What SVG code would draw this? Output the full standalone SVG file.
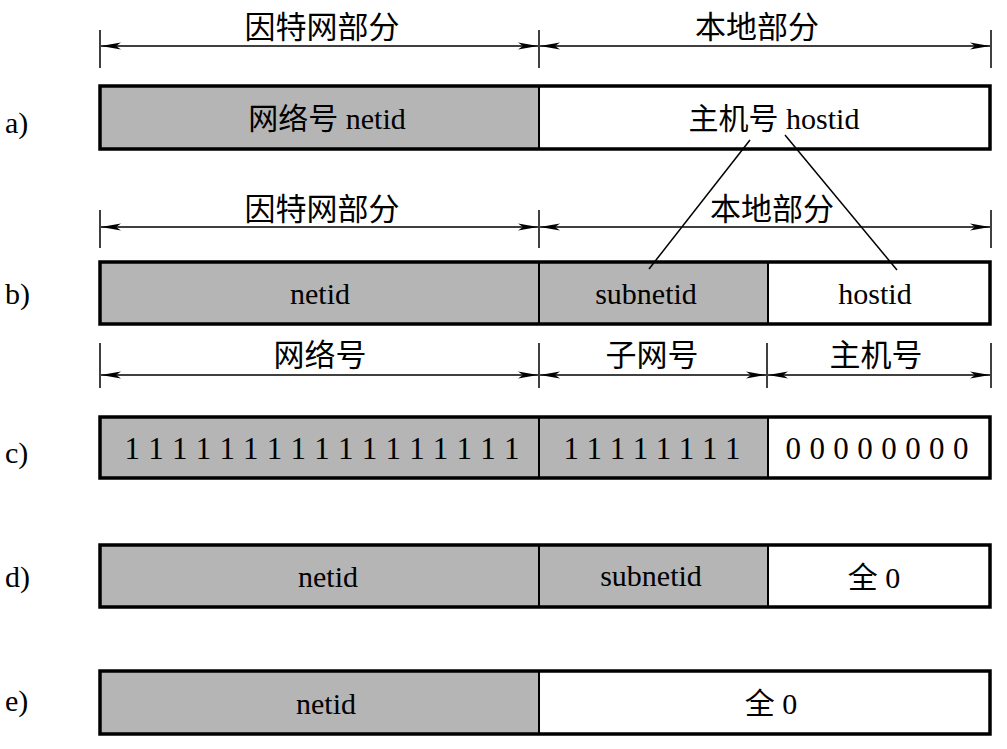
<svg xmlns="http://www.w3.org/2000/svg" width="1007" height="749" viewBox="0 0 1007 749">
<style>
text{font-family:"Liberation Serif","Noto Sans CJK SC",serif;fill:#000;}
.t{font-size:30px;text-anchor:middle;}
.d{font-size:31px;text-anchor:middle;}
.lab{font-size:30px;}
.g{fill:#b5b5b5;stroke:#000;stroke-width:2;}
.w{fill:#fff;stroke:#000;stroke-width:2;}
.frame{fill:none;stroke:#000;stroke-width:3.5;}
.tick{stroke:#000;stroke-width:1.5;}
.dim{stroke:#000;stroke-width:1.3;fill:none;marker-start:url(#ar);marker-end:url(#ar);}
.con{stroke:#000;stroke-width:1.5;fill:none;}
</style>
<defs>
<marker id="ar" markerUnits="userSpaceOnUse" markerWidth="24" markerHeight="10" viewBox="-22 -5 24 10" refX="0" refY="0" orient="auto-start-reverse">
<path d="M0,0 L-20,-3.5 L-15,0 L-20,3.5 Z" fill="#000"/>
</marker>
</defs>
<rect width="1007" height="749" fill="#fff"/>

<g id="labels">
<text class="lab" x="5" y="133">a)</text>
<text class="lab" x="5" y="304">b)</text>
<text class="lab" x="5" y="463">c)</text>
<text class="lab" x="5" y="587">d)</text>
<text class="lab" x="5" y="711">e)</text>
</g>

<g id="dimensions">
<line class="tick" x1="100" y1="30" x2="100" y2="68"/>
<line class="tick" x1="539" y1="30" x2="539" y2="68"/>
<line class="tick" x1="991" y1="30" x2="991" y2="68"/>
<line class="dim" x1="101" y1="46" x2="538" y2="46"/>
<line class="dim" x1="540" y1="46" x2="990" y2="46"/>
<text class="d" x="322" y="38">因特网部分</text>
<text class="d" x="757" y="38">本地部分</text>

<line class="tick" x1="100" y1="210" x2="100" y2="248"/>
<line class="tick" x1="539" y1="210" x2="539" y2="248"/>
<line class="tick" x1="991" y1="210" x2="991" y2="248"/>
<line class="dim" x1="101" y1="227" x2="538" y2="227"/>
<line class="dim" x1="540" y1="227" x2="990" y2="227"/>
<text class="d" x="322" y="220">因特网部分</text>
<text class="d" x="772" y="220">本地部分</text>

<line class="tick" x1="100" y1="343" x2="100" y2="388"/>
<line class="tick" x1="539" y1="343" x2="539" y2="388"/>
<line class="tick" x1="767" y1="343" x2="767" y2="388"/>
<line class="tick" x1="991" y1="343" x2="991" y2="388"/>
<line class="dim" x1="101" y1="375" x2="538" y2="375"/>
<line class="dim" x1="540" y1="375" x2="766" y2="375"/>
<line class="dim" x1="768" y1="375" x2="990" y2="375"/>
<text class="d" x="320" y="366">网络号</text>
<text class="d" x="652" y="366">子网号</text>
<text class="d" x="876" y="366">主机号</text>
</g>

<g id="row-a">
<g id="a-netid"><rect class="g" x="100" y="86" width="439" height="63"/><text class="t" x="327" y="129">网络号 netid</text></g>
<g id="a-hostid"><rect class="w" x="539" y="86" width="451" height="63"/><text class="t" x="774" y="129">主机号 hostid</text></g>
<rect class="frame" x="100" y="86" width="890" height="63"/>
</g>

<g id="row-b">
<g id="b-netid"><rect class="g" x="100" y="262" width="439" height="62"/><text class="t" x="320" y="304">netid</text></g>
<g id="b-subnetid"><rect class="g" x="539" y="262" width="229" height="62"/><text class="t" x="646" y="304">subnetid</text></g>
<g id="b-hostid"><rect class="w" x="768" y="262" width="222" height="62"/><text class="t" x="875" y="304">hostid</text></g>
<rect class="frame" x="100" y="262" width="890" height="62"/>
</g>

<g id="row-c">
<g id="c-net"><rect class="g" x="100" y="417" width="439" height="61"/><text class="d" x="322" y="459" textLength="395" lengthAdjust="spacing">1 1 1 1 1 1 1 1 1 1 1 1 1 1 1 1 1</text></g>
<g id="c-sub"><rect class="g" x="539" y="417" width="229" height="61"/><text class="d" x="652" y="459" textLength="177" lengthAdjust="spacing">1 1 1 1 1 1 1 1</text></g>
<g id="c-host"><rect class="w" x="768" y="417" width="222" height="61"/><text class="d" x="877" y="459" textLength="183" lengthAdjust="spacing">0 0 0 0 0 0 0 0</text></g>
<rect class="frame" x="100" y="417" width="890" height="61"/>
</g>

<g id="row-d">
<g id="d-netid"><rect class="g" x="100" y="545" width="439" height="62"/><text class="t" x="328" y="587">netid</text></g>
<g id="d-subnetid"><rect class="g" x="539" y="545" width="229" height="62"/><text class="t" x="651" y="586">subnetid</text></g>
<g id="d-host"><rect class="w" x="768" y="545" width="222" height="62"/><text class="t" x="874" y="588">全 0</text></g>
<rect class="frame" x="100" y="545" width="890" height="62"/>
</g>

<g id="row-e">
<g id="e-netid"><rect class="g" x="100" y="671" width="439" height="63"/><text class="t" x="326" y="714">netid</text></g>
<g id="e-host"><rect class="w" x="539" y="671" width="451" height="63"/><text class="t" x="771" y="714">全 0</text></g>
<rect class="frame" x="100" y="671" width="890" height="63"/>
</g>

<g id="connectors">
<line class="con" x1="750" y1="140" x2="649" y2="269"/>
<line class="con" x1="785" y1="135" x2="897" y2="270"/>
</g>
</svg>
